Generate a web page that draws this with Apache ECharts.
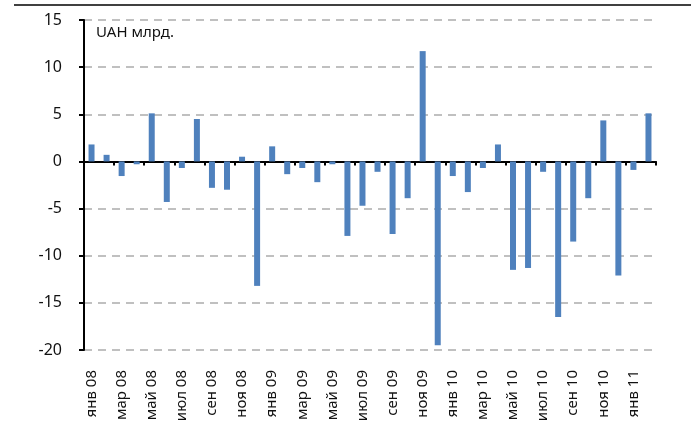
<!DOCTYPE html>
<html>
<head>
<meta charset="utf-8">
<script src="https://cdn.jsdelivr.net/npm/echarts@6/dist/echarts.min.js"></script>
<style>
  html, body { margin: 0; padding: 0; background: #fff; }
  #chart { width: 694px; height: 434px; }
</style>
</head>
<body>
<div id="chart"></div>
<script>
// месяцы янв 08 - фев 11
var months = ['янв', 'фев', 'мар', 'апр', 'май', 'июн', 'июл', 'авг', 'сен', 'окт', 'ноя', 'дек'];
var years = ['08', '09', '10', '11'];
var categories = [];
for (var y = 0; y < years.length; y++) {
  for (var m = 0; m < 12; m++) {
    categories.push(months[m] + ' ' + years[y]);
  }
}
categories = categories.slice(0, 38);

// UAH млрд.
var values = [
  1.8, 0.7, -1.55, -0.3, 5.1, -4.3, -0.7, 4.5, -2.8, -3.0, 0.5, -13.2,
  1.6, -1.35, -0.7, -2.2, -0.3, -7.9, -4.7, -1.1, -7.7, -3.9, 11.7, -19.5,
  -1.55, -3.25, -0.7, 1.8, -11.5, -11.3, -1.1, -16.5, -8.5, -3.9, 4.35, -12.1,
  -0.9, 5.1
];

var yTicks = { min: -20, max: 15, step: 5 };
var unitLabel = 'UAH млрд.';

var chart = echarts.init(document.getElementById('chart'));
var font = 'Noto Sans';

chart.setOption({
  animation: false,
  grid: { left: 84, right: 38, top: 20, bottom: 84 },
  graphic: [
    {
      type: 'line',
      shape: { x1: 14, y1: 5, x2: 691, y2: 5 },
      style: { stroke: '#000', lineWidth: 1.5 }
    },
    {
      type: 'text',
      left: 96,
      top: 25,
      style: { text: unitLabel, fill: '#111', font: '15px "Noto Sans"' }
    }
  ],
  xAxis: [
    {
      type: 'category',
      data: categories,
      position: 'bottom',
      axisLine: { onZero: false, show: false },
      axisTick: { show: false },
      axisLabel: {
        interval: 1,
        rotate: 90,
        margin: 20,
        color: '#111',
        fontSize: 15,
        fontFamily: font
      },
      splitLine: { show: false }
    },
    {
      type: 'category',
      data: categories,
      position: 'bottom',
      axisLine: { onZero: true, lineStyle: { color: '#000', width: 2 } },
      axisTick: { show: true, interval: 1, length: 4, lineStyle: { color: '#000', width: 2 } },
      axisLabel: { show: false },
      splitLine: { show: false }
    }
  ],
  yAxis: {
    type: 'value',
    min: yTicks.min,
    max: yTicks.max,
    interval: yTicks.step,
    axisLine: { show: true, lineStyle: { color: '#000', width: 2 } },
    axisTick: { show: true, length: 5, lineStyle: { color: '#000', width: 2 } },
    axisLabel: { margin: 22, color: '#111', fontSize: 16, fontFamily: font },
    splitLine: { lineStyle: { color: '#c0c0c0', width: 2, type: [8, 6] } }
  },
  series: [
    {
      type: 'bar',
      xAxisIndex: 0,
      data: values,
      barWidth: 6,
      itemStyle: { color: '#4f81bd' }
    }
  ]
});
</script>
</body>
</html>
